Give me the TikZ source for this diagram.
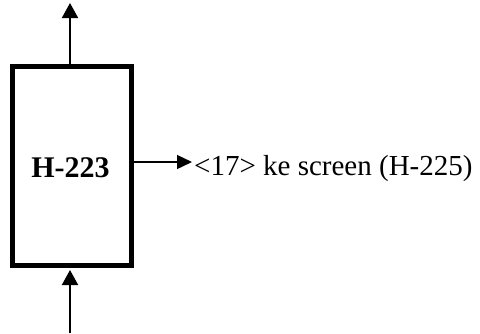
\documentclass[tikz,border=0pt]{standalone}
\usepackage{fontspec}
\setmainfont{Liberation Serif}
\usetikzlibrary{arrows.meta}
\begin{document}
\begin{tikzpicture}[x=1pt,y=-1pt,
  procbox/.style={draw=black,line width=5pt,minimum width=119pt,minimum height=199pt,inner sep=0pt},
  flowv/.style={line width=2pt,-{Triangle[length=15pt,width=16pt]}},
  flowh/.style={line width=1.4pt,-{Triangle[length=15pt,width=14pt]}},
  lbl/.style={anchor=base west,inner sep=0pt,font=\fontsize{29}{34}\selectfont}]
\useasboundingbox (0,0) rectangle (480,333);
\node[procbox] (box) at (72,166) {};
\node[font=\fontsize{30}{34}\selectfont\bfseries,inner sep=0pt,anchor=base] (name) at (70.5,177) {H-223};
\coordinate (topend) at (70,3);
\coordinate (botstart) at (70,333);
\coordinate (boxtop) at (70,64);
\coordinate (boxbot) at (70,270);
\coordinate (boxright) at (134,162);
\node[lbl] (out) at (194,175) {<17> ke screen (H-225)};
\draw[flowv] (boxtop) -- (topend);
\draw[flowv] (botstart) -- (boxbot);
\draw[flowh] (boxright) -- ([xshift=-2pt]out.west |- boxright);
\end{tikzpicture}
\end{document}
